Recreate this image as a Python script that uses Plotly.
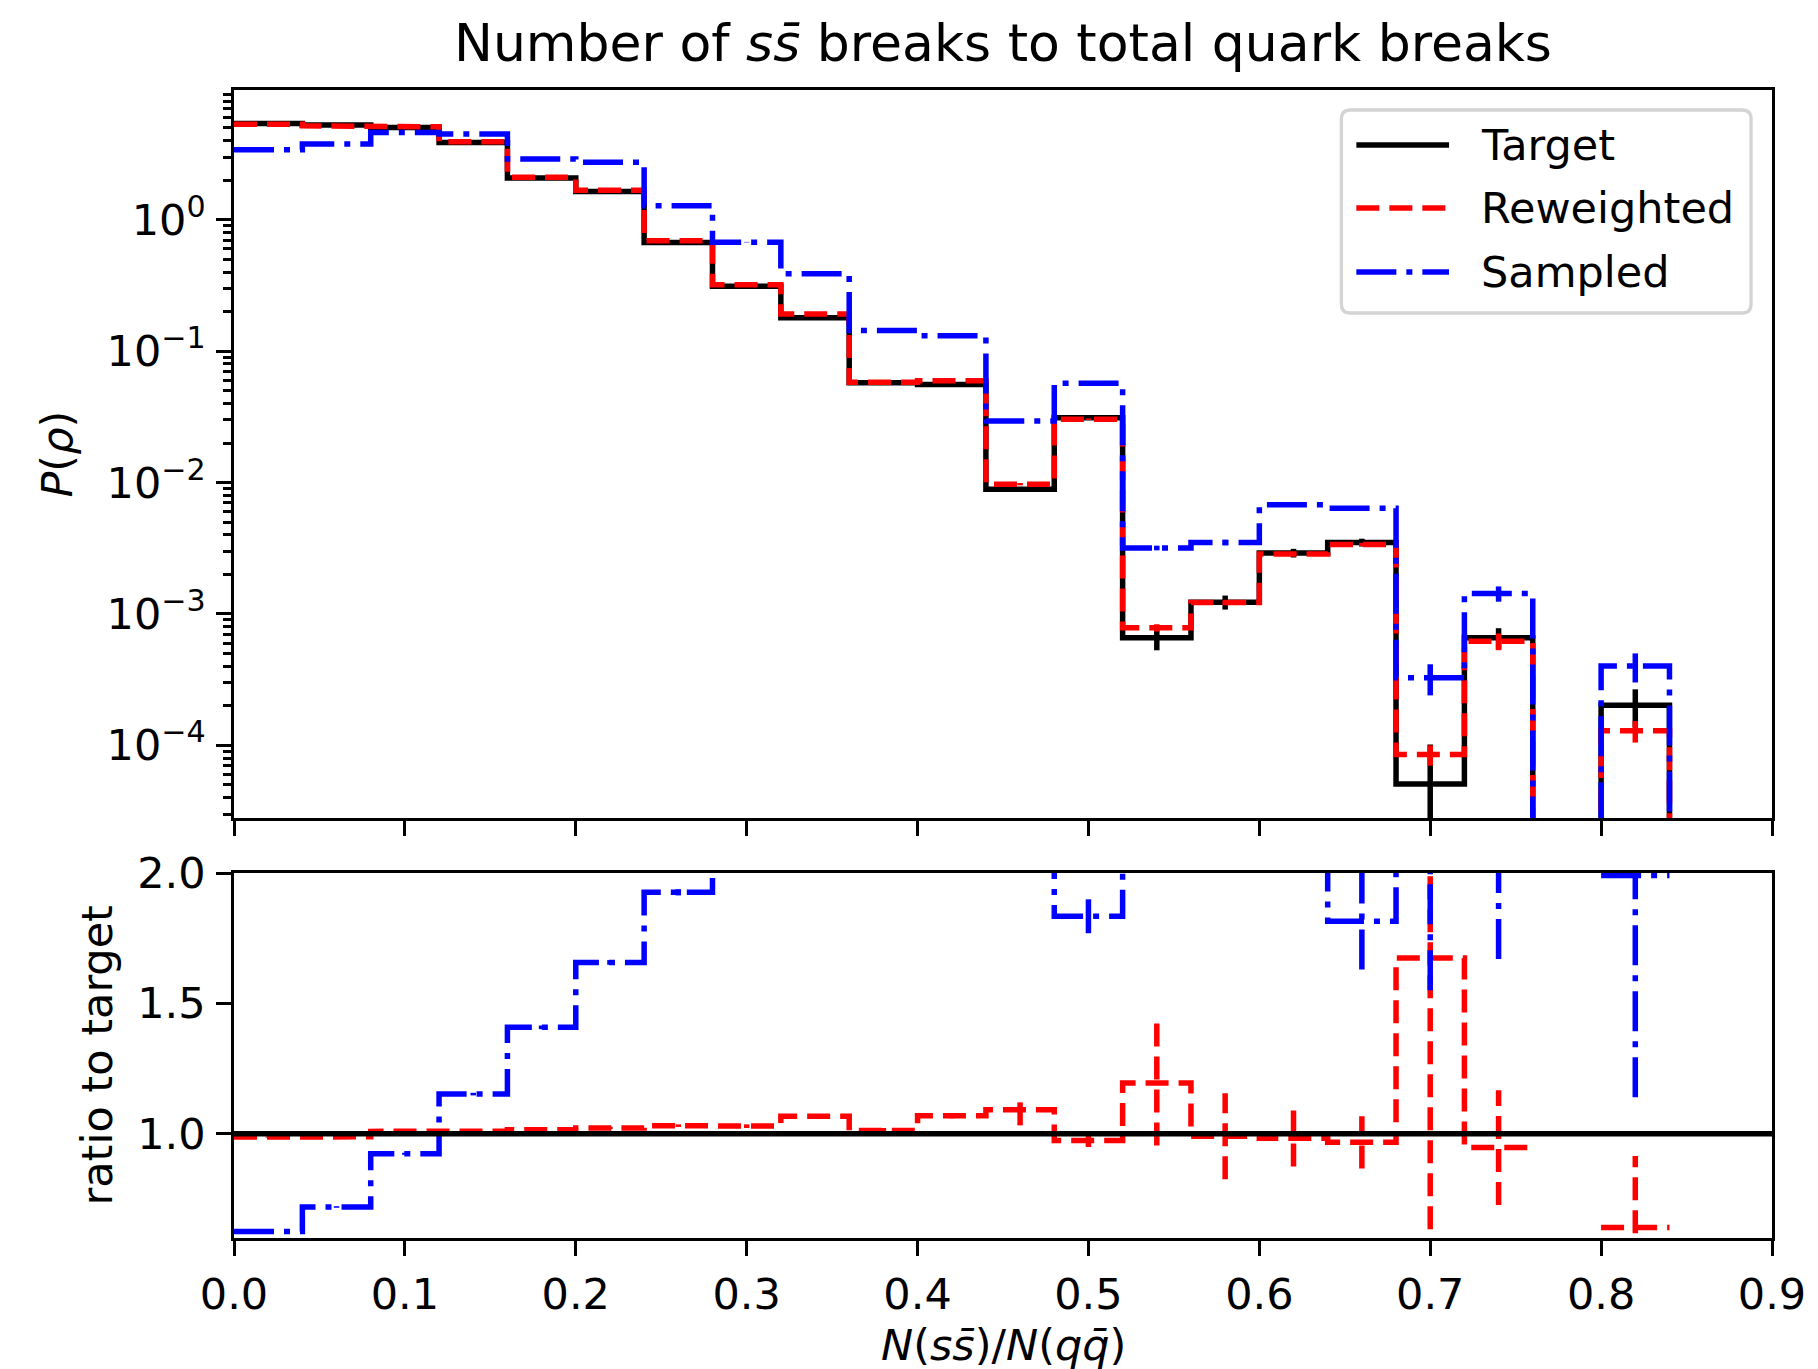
import numpy as np
import plotly.graph_objects as go

# ---------------------------------------------------------------- data
bin_edges = [0.00, 0.04, 0.08, 0.12, 0.16, 0.20, 0.24, 0.28, 0.32, 0.36, 0.40,
             0.44, 0.48, 0.52, 0.56, 0.60, 0.64, 0.68, 0.72, 0.76, 0.80, 0.84]

# normalised densities P(rho) per bin
target = [5.41, 5.26, 5.05, 3.88, 2.08, 1.64, 0.673, 0.312, 0.180, 0.0574, 0.0559,
          0.00891, 0.0312, 6.59e-4, 1.23e-3, 2.91e-3, 3.50e-3, 5.07e-5, 6.59e-4, 0.0, 2.02e-4]
target_err = [0.005, 0.005, 0.005, 0.004, 0.003, 0.0025, 0.0015, 0.001, 0.0008, 0.0004, 0.0004,
              0.00035, 0.0006, 1.3e-4, 1.5e-4, 2.2e-4, 2.4e-4, 5.07e-5, 1.2e-4, 0.0, 6.5e-5]

reweighted = [5.34, 5.19, 5.10, 3.92, 2.11, 1.68, 0.694, 0.321, 0.192, 0.0581, 0.0597,
              0.00973, 0.0304, 7.85e-4, 1.22e-3, 2.86e-3, 3.38e-3, 8.5e-5, 6.2e-4, 0.0, 1.29e-4]
reweighted_err = [0.004, 0.004, 0.004, 0.003, 0.002, 0.002, 0.0012, 0.0008, 0.0006, 0.0003, 0.0003,
                  0.0002, 0.0004, 5e-5, 5e-5, 9e-5, 1e-4, 1.5e-5, 9e-5, 0.0, 2.4e-5]

sampled = [3.42, 3.78, 4.62, 4.50, 2.90, 2.74, 1.28, 0.676, 0.389, 0.144, 0.131,
           0.0294, 0.0569, 3.18e-3, 3.50e-3, 6.77e-3, 6.39e-3, 3.27e-4, 1.43e-3, 0.0, 4.01e-4]
sampled_err = [0.008, 0.008, 0.009, 0.009, 0.007, 0.007, 0.005, 0.003, 0.0025, 0.0015, 0.0014,
               0.0007, 0.001, 1.3e-4, 1.7e-4, 2.3e-4, 2.2e-4, 8.7e-5, 1.9e-4, 0.0, 1.0e-4]

# ratios to target (NaN where the target bin is empty)
nan = float("nan")
ratio_rew = [0.987, 0.988, 1.009, 1.010, 1.015, 1.022, 1.031, 1.029, 1.067, 1.012, 1.069,
             1.092, 0.974, 1.195, 0.990, 0.983, 0.967, 1.674, 0.947, nan, 0.640]
ratio_rew_err = [0.002, 0.002, 0.002, 0.003, 0.004, 0.004, 0.005, 0.007, 0.008, 0.01, 0.01,
                 0.06, 0.025, 0.24, 0.165, 0.109, 0.10, 1.8, 0.22, nan, 0.275]
ratio_samp = [0.625, 0.719, 0.923, 1.152, 1.408, 1.657, 1.926, 2.17, 2.16, 2.51, 2.34,
              3.30, 1.834, 4.83, 2.85, 2.33, 1.815, 6.45, 2.17, nan, 1.99]
ratio_samp_err = [0.003, 0.003, 0.004, 0.005, 0.007, 0.009, 0.012, 0.02, 0.02, 0.04, 0.04,
                  0.2, 0.065, 1.0, 0.4, 0.25, 0.185, 4.9, 0.5, nan, 0.85]

x_tick_vals = [0.0, 0.1, 0.2, 0.3, 0.4, 0.5, 0.6, 0.7, 0.8, 0.9]
x_tick_text = ["0.0", "0.1", "0.2", "0.3", "0.4", "0.5", "0.6", "0.7", "0.8", "0.9"]
log_tick_vals = [1e-4, 1e-3, 1e-2, 1e-1, 1.0]
log_tick_text = ["10<sup>−4</sup>", "10<sup>−3</sup>", "10<sup>−2</sup>", "10<sup>−1</sup>", "10<sup>0</sup>"]
ratio_tick_vals = [1.0, 1.5, 2.0]
ratio_tick_text = ["1.0", "1.5", "2.0"]

series = [
    ("Target", target, target_err, "#000000", "solid"),
    ("Reweighted", reweighted, reweighted_err, "#ff0000", "23px,10px"),
    ("Sampled", sampled, sampled_err, "#0000ff", "40px,10px,6px,10px"),
]
ratios = [
    (ratio_rew, ratio_rew_err, "#ff0000", "23px,10px"),
    (ratio_samp, ratio_samp_err, "#0000ff", "40px,10px,6px,10px"),
]

# ---------------------------------------------------------------- geometry
W, H = 1818, 1369
ML, MR, MT, MB = 234, 41, 90, 131
PW, PH = W - ML - MR, H - MT - MB
FONT = "DejaVu Sans"
TICK_PX = 43
LW = 5.5


def px_x(px):
    return (px - ML) / PW


def px_y(py):
    return (H - MB - py) / PH


FLOOR = 1e-9  # stands in for empty bins on the log axis
edges = np.array(bin_edges)
centers = 0.5 * (edges[:-1] + edges[1:])


def hist_step(vals):
    xs, ys = [], []
    for i, v in enumerate(vals):
        v = v if v > 0 else FLOOR
        xs += [edges[i], edges[i + 1]]
        ys += [v, v]
    xs.append(edges[-1])
    ys.append(FLOOR)
    return xs, ys


def ratio_step(vals):
    xs, ys = [], []
    for i, v in enumerate(vals):
        if np.isnan(v):
            xs.append(None)
            ys.append(None)
        else:
            xs += [edges[i], edges[i + 1]]
            ys += [v, v]
    return xs, ys


def err_segments(vals, errs, log=False):
    xs, ys = [], []
    for c, v, e in zip(centers, vals, errs):
        if np.isnan(v) or np.isnan(e) or v <= 0 or e <= 0:
            continue
        lo = v - e
        if log and lo <= 0:
            lo = FLOOR
        xs += [c, c, None]
        ys += [lo, v + e, None]
    return xs, ys


fig = go.Figure()

# upper panel: histograms with statistical errors
for name, vals, errs, color, dash in series:
    sx, sy = hist_step(vals)
    fig.add_trace(go.Scatter(x=sx, y=sy, mode="lines", name=name, xaxis="x", yaxis="y",
                             line=dict(color=color, width=LW, dash=dash), showlegend=False,
                             hoverinfo="skip"))
    ex, ey = err_segments(vals, errs, log=True)
    fig.add_trace(go.Scatter(x=ex, y=ey, mode="lines", xaxis="x", yaxis="y",
                             line=dict(color=color, width=LW, dash=dash), showlegend=False,
                             hoverinfo="skip"))

# lower panel: ratios to target
for vals, errs, color, dash in ratios:
    sx, sy = ratio_step(vals)
    fig.add_trace(go.Scatter(x=sx, y=sy, mode="lines", xaxis="x2", yaxis="y2",
                             line=dict(color=color, width=LW, dash=dash), showlegend=False,
                             connectgaps=False, hoverinfo="skip"))
    ex, ey = err_segments(vals, errs)
    fig.add_trace(go.Scatter(x=ex, y=ey, mode="lines", xaxis="x2", yaxis="y2",
                             line=dict(color=color, width=LW, dash=dash), showlegend=False,
                             hoverinfo="skip"))

shapes = [
    dict(type="line", xref="x2 domain", yref="y2", x0=0, x1=1, y0=1.0, y1=1.0,
         line=dict(color="#000000", width=LW), layer="above"),
]

# legend box with rounded corners
lx0, lx1, ly0, ly1, rad = 1345, 1756, 110, 313, 9


def P(px, py):
    return f"{px_x(px):.6f},{px_y(py):.6f}"


box = (f"M {P(lx0 + rad, ly0)} L {P(lx1 - rad, ly0)} Q {P(lx1, ly0)} {P(lx1, ly0 + rad)} "
       f"L {P(lx1, ly1 - rad)} Q {P(lx1, ly1)} {P(lx1 - rad, ly1)} "
       f"L {P(lx0 + rad, ly1)} Q {P(lx0, ly1)} {P(lx0, ly1 - rad)} "
       f"L {P(lx0, ly0 + rad)} Q {P(lx0, ly0)} {P(lx0 + rad, ly0)} Z")
shapes.append(dict(type="path", xref="paper", yref="paper", path=box,
                   fillcolor="rgba(255,255,255,0.8)", line=dict(color="#d4d4d4", width=3.3),
                   layer="above"))

annotations = []
for (name, _, _, color, dash), ly in zip(series, [145, 208, 272]):
    shapes.append(dict(type="line", xref="paper", yref="paper",
                       x0=px_x(1360), x1=px_x(1453), y0=px_y(ly), y1=px_y(ly),
                       line=dict(color=color, width=LW, dash=dash), layer="above"))
    annotations.append(dict(xref="paper", yref="paper", x=px_x(1483), y=px_y(ly),
                            text=name, showarrow=False, xanchor="left", yanchor="middle",
                            font=dict(family=FONT, size=TICK_PX, color="#000000")))

# title and axis labels
annotations += [
    dict(xref="paper", yref="paper", x=0.5, y=px_y(43),
         text="Number of <i>s</i><i>s\u0304</i> breaks to total quark breaks",
         showarrow=False, xanchor="center", yanchor="middle",
         font=dict(family=FONT, size=52, color="#000000")),
    dict(xref="paper", yref="paper", x=px_x(56), y=px_y(454),
         text="<i>P</i>(<i>ρ</i>)", textangle=-90, showarrow=False,
         xanchor="center", yanchor="middle",
         font=dict(family=FONT, size=TICK_PX, color="#000000")),
    dict(xref="paper", yref="paper", x=px_x(97), y=px_y(1055),
         text="ratio to target", textangle=-90, showarrow=False,
         xanchor="center", yanchor="middle",
         font=dict(family=FONT, size=TICK_PX, color="#000000")),
    dict(xref="paper", yref="paper", x=0.5, y=px_y(1345),
         text="<i>N</i>(<i>s</i><i>s\u0304</i>)/<i>N</i>(<i>q</i><i>q\u0304</i>)",
         showarrow=False, xanchor="center", yanchor="middle",
         font=dict(family=FONT, size=TICK_PX, color="#000000")),
]

axis_common = dict(showline=True, linecolor="#000000", linewidth=3.3, mirror=True,
                   ticks="outside", ticklen=14.6, tickwidth=3.3, tickcolor="#000000",
                   showgrid=False, zeroline=False, ticklabelstandoff=2,
                   tickfont=dict(family=FONT, size=TICK_PX, color="#000000"))

minor_log = [k * 10.0 ** p for p in range(-5, 1) for k in range(2, 10)]

fig.update_layout(
    width=W, height=H, autosize=False,
    margin=dict(l=ML, r=MR, t=MT, b=MB, pad=0),
    paper_bgcolor="#ffffff", plot_bgcolor="#ffffff",
    font=dict(family=FONT, color="#000000"),
    showlegend=False,
    xaxis=dict(domain=[0, 1], anchor="y", range=[0, 0.9], tickvals=x_tick_vals,
               showticklabels=False, **axis_common),
    yaxis=dict(domain=[px_y(818), 1.0], anchor="x", type="log", range=[-4.553, 0.988],
               tickvals=log_tick_vals, ticktext=log_tick_text,
               minor=dict(tickvals=minor_log, ticks="outside", ticklen=8.3, tickwidth=2.5,
                          tickcolor="#000000", showgrid=False),
               **axis_common),
    xaxis2=dict(domain=[0, 1], anchor="y2", range=[0, 0.9], matches="x",
                tickvals=x_tick_vals, ticktext=x_tick_text, **axis_common),
    yaxis2=dict(domain=[0, px_y(873)], anchor="x2", range=[0.6, 2.0],
                tickvals=ratio_tick_vals, ticktext=ratio_tick_text, **axis_common),
    shapes=shapes,
    annotations=annotations,
)

fig.write_html("out.html")
